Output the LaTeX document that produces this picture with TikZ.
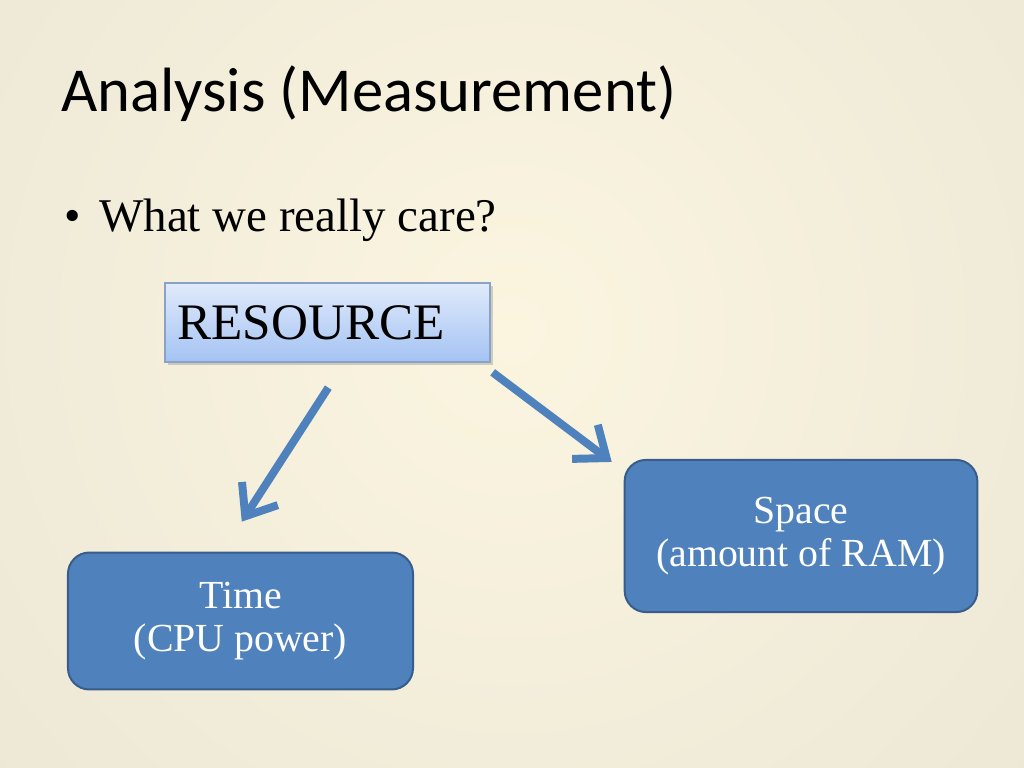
\documentclass[tikz,border=0pt]{standalone}
\usepackage{fontspec}
\setmainfont{Liberation Serif}
\newfontfamily\titlefont{Carlito}
\usetikzlibrary{arrows.meta,shadows}

\definecolor{boxblue}{RGB}{79,129,189}
\definecolor{boxedge}{RGB}{56,93,138}
\definecolor{restop}{RGB}{224,234,251}
\definecolor{resbot}{RGB}{164,195,243}
\definecolor{resedge}{RGB}{137,162,200}
\definecolor{bgmid}{RGB}{251,245,224}
\definecolor{bgout}{RGB}{224,221,205}

\tikzset{
  bluebox/.style={draw=boxedge, line width=1.4pt, fill=boxblue, rounded corners=15pt, text=white, align=center, inner sep=0pt, font=\fontsize{28}{30.2}\selectfont},
  arr/.style={draw=boxblue, line width=5.6pt, -{Straight Barb[length=19pt,width=30pt]}},
}

\begin{document}
\begin{tikzpicture}[x=0.703125pt,y=0.703125pt,yscale=-1]
\useasboundingbox (0,0) rectangle (1024,768);

%Background
\begin{scope}
\clip (0,0) rectangle (1024,768);
\shade[inner color=bgmid, outer color=bgout] (512,330) circle (1280);
\end{scope}

% Text Node
\node (title) [anchor=base west, inner sep=0pt, font=\titlefont\fontsize{44}{44}\selectfont] at (61,112) {Analysis (Measurement)};
% Text Node
\node (bul) [anchor=base west, inner sep=0pt, font=\fontsize{33}{33}\selectfont] at (64,232) {\textbullet};
\node (care) [anchor=base west, inner sep=0pt, font=\fontsize{33}{33}\selectfont] at (99,232) {What we really care?};

%Shape: Rectangle
\node (res) [draw=resedge, line width=0.8pt, top color=restop, bottom color=resbot, drop shadow={opacity=0.35, shadow xshift=2pt, shadow yshift=-2pt},
  minimum width=228.5pt, minimum height=55.5pt, text width=211pt, inner xsep=8.7pt, align=left, font=\fontsize{36}{36}\selectfont] at (327.5,322.5) {RESOURCE};

%Shape: Rounded Rect
\node (time) [bluebox, minimum width=242.6pt, minimum height=96.3pt] at (240.5,621) {Time\\(CPU power)};
%Shape: Rounded Rect
\node (space) [bluebox, minimum width=248pt, minimum height=107pt] at (801,536) {Space\\(amount of RAM)};

%Straight Lines
\draw [arr, shorten <=21pt, shorten >=25pt] ([shift={(17,0)}]res.south) -- ([shift={(-18,0)}]time.north);
%Straight Lines
\draw [arr, shorten <=11.5pt, shorten >=10.5pt] ([shift={(-11,0)}]res.south east) -- ([shift={(0,12)}]space.north west);

\end{tikzpicture}
\end{document}
